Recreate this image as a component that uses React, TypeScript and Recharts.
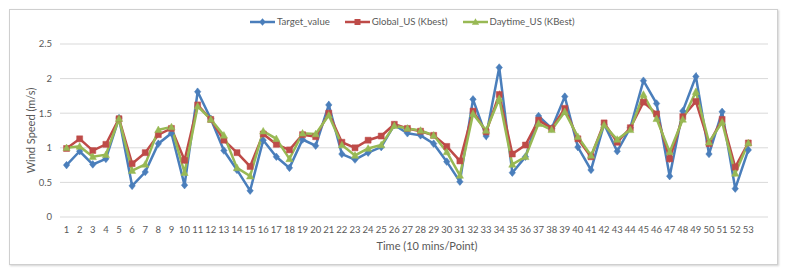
import { LineChart, Line, XAxis, YAxis, CartesianGrid } from 'recharts';

const categories = [
  1, 2, 3, 4, 5, 6, 7, 8, 9, 10, 11, 12, 13, 14, 15, 16, 17, 18, 19, 20, 21, 22, 23, 24, 25, 26, 27,
  28, 29, 30, 31, 32, 33, 34, 35, 36, 37, 38, 39, 40, 41, 42, 43, 44, 45, 46, 47, 48, 49, 50, 51, 52, 53,
];

const targetValue = [
  0.75, 0.95, 0.76, 0.84, 1.43, 0.45, 0.65, 1.06, 1.21, 0.46, 1.81, 1.42, 0.96, 0.68, 0.38, 1.11, 0.87,
  0.71, 1.12, 1.03, 1.62, 0.91, 0.83, 0.93, 1.01, 1.33, 1.21, 1.18, 1.06, 0.8, 0.51, 1.7, 1.17, 2.16,
  0.64, 0.87, 1.46, 1.28, 1.74, 1.01, 0.68, 1.34, 0.95, 1.29, 1.97, 1.64, 0.59, 1.53, 2.03, 0.91, 1.52,
  0.41, 0.97,
];

const globalUs = [
  0.99, 1.13, 0.96, 1.05, 1.42, 0.77, 0.93, 1.19, 1.28, 0.82, 1.62, 1.41, 1.11, 0.93, 0.73, 1.2, 1.05,
  0.97, 1.19, 1.16, 1.5, 1.08, 1.0, 1.11, 1.17, 1.34, 1.28, 1.24, 1.18, 1.02, 0.81, 1.53, 1.23, 1.77,
  0.91, 1.04, 1.4, 1.28, 1.57, 1.13, 0.87, 1.36, 1.08, 1.29, 1.66, 1.49, 0.84, 1.45, 1.67, 1.06, 1.41,
  0.72, 1.07,
];

const daytimeUs = [
  1.0, 1.02, 0.87, 0.9, 1.42, 0.67, 0.76, 1.26, 1.3, 0.64, 1.6, 1.41, 1.18, 0.71, 0.59, 1.24, 1.13,
  0.84, 1.21, 1.2, 1.47, 1.04, 0.89, 0.99, 1.04, 1.32, 1.28, 1.25, 1.18, 0.94, 0.6, 1.49, 1.25, 1.71,
  0.76, 0.87, 1.35, 1.26, 1.52, 1.16, 0.89, 1.33, 1.12, 1.26, 1.77, 1.42, 0.94, 1.41, 1.81, 1.08, 1.37,
  0.63, 1.07,
];

const yTicks = [0, 0.5, 1, 1.5, 2, 2.5];

const BLUE = '#4a7ebb';
const RED = '#be4b48';
const GREEN = '#98b954';
const FONT = 'Lato, "Open Sans", sans-serif';
const TEXT = '#595959';

const chartData = categories.map((t, i) => ({
  t,
  target: targetValue[i],
  global: globalUs[i],
  daytime: daytimeUs[i],
}));

type Shape = 'diamond' | 'square' | 'triangle';

function markerPath(shape: Shape, cx: number, cy: number) {
  if (shape === 'diamond') return `M${cx},${cy - 3.8}L${cx + 3.2},${cy}L${cx},${cy + 3.8}L${cx - 3.2},${cy}Z`;
  if (shape === 'square') return `M${cx - 3},${cy - 3}h6v6h-6Z`;
  return `M${cx},${cy - 3.8}L${cx + 3.6},${cy + 2.8}L${cx - 3.6},${cy + 2.8}Z`;
}

function makeDot(shape: Shape, color: string) {
  return (props: any) => {
    const { cx, cy, index } = props;
    if (cx == null || cy == null) return <g key={index} />;
    return <path key={index} d={markerPath(shape, cx, cy)} fill={color} stroke={color} strokeWidth={0.5} />;
  };
}

const legendItems: { name: string; color: string; shape: Shape }[] = [
  { name: 'Target_value', color: BLUE, shape: 'diamond' },
  { name: 'Global_US (Kbest)', color: RED, shape: 'square' },
  { name: 'Daytime_US (KBest)', color: GREEN, shape: 'triangle' },
];

export default function App() {
  return (
    <div style={{ position: 'absolute', left: 0, top: 0, width: 787, height: 274, background: '#fff' }}>
      <div
        style={{
          position: 'absolute',
          left: 9,
          top: 9,
          width: 767,
          height: 254,
          border: '1px solid #cfcfcf',
          boxShadow: '1px 1px 2px rgba(0,0,0,0.18)',
        }}
      />
      <div
        style={{
          position: 'absolute',
          left: 250,
          top: 16,
          display: 'flex',
          alignItems: 'center',
          gap: 15,
          fontFamily: FONT,
          fontSize: 9.6,
          color: TEXT,
          whiteSpace: 'nowrap',
        }}
      >
        {legendItems.map((it) => (
          <div key={it.name} style={{ display: 'flex', alignItems: 'center', gap: 2 }}>
            <svg width={25} height={10}>
              <line x1={0} y1={5} x2={25} y2={5} stroke={it.color} strokeWidth={2.5} />
              <path d={markerPath(it.shape, 12.5, 5)} fill={it.color} />
            </svg>
            <span>{it.name}</span>
          </div>
        ))}
      </div>
      <div style={{ position: 'absolute', left: 0, top: 0 }}>
        <LineChart width={787} height={274} data={chartData} margin={{ top: 44, right: 19, bottom: 27, left: 10 }}>
          <CartesianGrid vertical={false} stroke="#d9d9d9" strokeWidth={1} />
          <XAxis
            type="number"
            dataKey="t"
            domain={[0.5, 54.5]}
            ticks={categories}
            interval={0}
            height={30}
            axisLine={false}
            tickLine={false}
            tickSize={0}
            tickMargin={9}
            tick={{ fill: TEXT, fontSize: 9.5, fontFamily: FONT }}
            label={(p: any) => (
              <text
                x={427}
                y={p.viewBox.y + 33}
                textAnchor="middle"
                fill={TEXT}
                fontSize={11}
                fontFamily={FONT}
              >
                Time (10 mins/Point)
              </text>
            )}
          />
          <YAxis
            domain={[0, 2.5]}
            ticks={yTicks}
            width={50}
            axisLine={false}
            tickLine={false}
            tickSize={0}
            tickMargin={8}
            tick={{ fill: TEXT, fontSize: 9.5, fontFamily: FONT }}
            label={(p: any) => {
              const x = 30;
              const y = p.viewBox.y + p.viewBox.height / 2;
              return (
                <text
                  x={x}
                  y={y}
                  transform={`rotate(-90, ${x}, ${y})`}
                  textAnchor="middle"
                  dominantBaseline="central"
                  fill={TEXT}
                  fontSize={11}
                  fontFamily={FONT}
                >
                  Wind Speed (m/s)
                </text>
              );
            }}
          />
          <Line
            dataKey="target"
            stroke={BLUE}
            strokeWidth={2.5}
            dot={makeDot('diamond', BLUE)}
            activeDot={false}
            isAnimationActive={false}
          />
          <Line
            dataKey="global"
            stroke={RED}
            strokeWidth={2.5}
            dot={makeDot('square', RED)}
            activeDot={false}
            isAnimationActive={false}
          />
          <Line
            dataKey="daytime"
            stroke={GREEN}
            strokeWidth={2.5}
            dot={makeDot('triangle', GREEN)}
            activeDot={false}
            isAnimationActive={false}
          />
        </LineChart>
      </div>
    </div>
  );
}
